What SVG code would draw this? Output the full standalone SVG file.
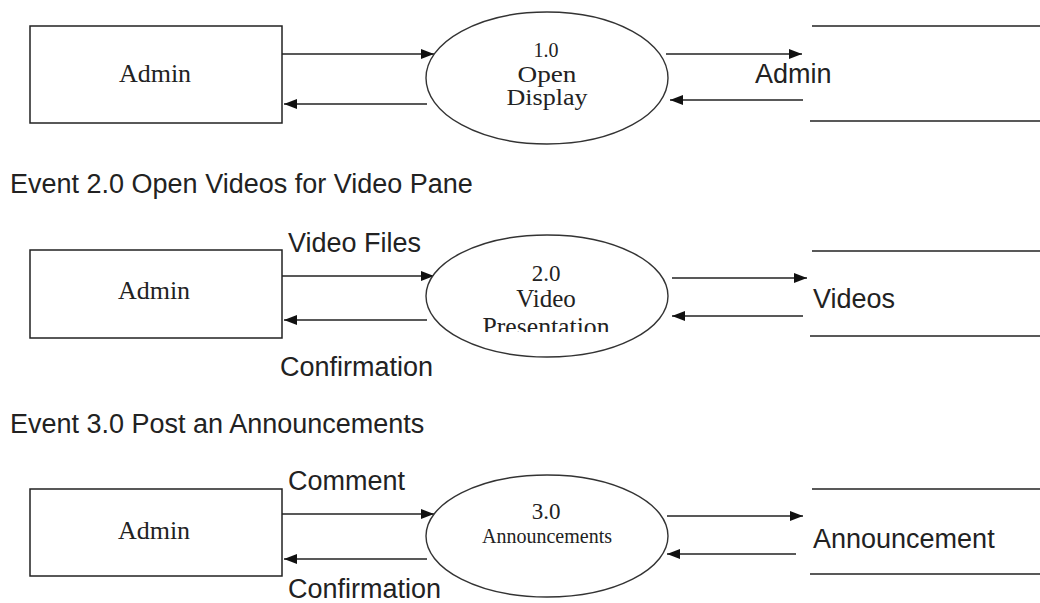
<svg xmlns="http://www.w3.org/2000/svg" width="1040" height="603" viewBox="0 0 1040 603">
<style>
.box{fill:#fff;stroke:#222;stroke-width:1.5}
.proc{fill:#fff;stroke:#333;stroke-width:1.4}
.store{stroke:#222;stroke-width:1.5}
.flow{stroke:#222;stroke-width:1.5;fill:none;marker-end:url(#ah)}
.serif{font-family:"Liberation Serif","Times New Roman",serif;fill:#222;text-anchor:middle}
.sans{font-family:"Liberation Sans",Arial,sans-serif;fill:#222;font-size:27px}
</style>
<defs>
<marker id="ah" markerUnits="userSpaceOnUse" markerWidth="13" markerHeight="10" refX="13" refY="5" orient="auto">
<path d="M0,0 L13,5 L0,10 z" fill="#111"/>
</marker>
<clipPath id="clipPres"><rect x="440" y="300" width="220" height="32"/></clipPath>
</defs>
<rect width="1040" height="603" fill="#fff"/>

<g id="connectors">
<line class="flow" x1="282" y1="54" x2="434" y2="54"/>
<line class="flow" x1="427" y1="104" x2="284" y2="104"/>
<line class="flow" x1="666" y1="54" x2="802" y2="54"/>
<line class="flow" x1="803" y1="100" x2="670" y2="100"/>
<line class="flow" x1="282" y1="276" x2="434" y2="276"/>
<line class="flow" x1="427" y1="320" x2="284" y2="320"/>
<line class="flow" x1="672" y1="278" x2="807" y2="278"/>
<line class="flow" x1="803" y1="316" x2="672" y2="316"/>
<line class="flow" x1="282" y1="514" x2="434" y2="514"/>
<line class="flow" x1="427" y1="559" x2="284" y2="559"/>
<line class="flow" x1="667" y1="516" x2="803" y2="516"/>
<line class="flow" x1="796" y1="554" x2="667" y2="554"/>
<text class="sans" x="288" y="252">Video Files</text>
<text class="sans" x="280" y="376">Confirmation</text>
<text class="sans" x="288" y="490">Comment</text>
<text class="sans" x="288" y="598">Confirmation</text>
</g>

<g id="admin1">
<rect class="box" x="30" y="26" width="252" height="97"/>
<text class="serif" x="155" y="82" font-size="26">Admin</text>
</g>
<g id="proc1">
<ellipse class="proc" cx="547" cy="78" rx="121" ry="66"/>
<text class="serif" x="546" y="57" font-size="20">1.0</text>
<text class="serif" x="547" y="82" font-size="23" textLength="59" lengthAdjust="spacingAndGlyphs">Open</text>
<text class="serif" x="547" y="105" font-size="23" textLength="81" lengthAdjust="spacingAndGlyphs">Display</text>
</g>
<g id="store1">
<line class="store" x1="812" y1="26" x2="1040" y2="26"/>
<line class="store" x1="810" y1="121" x2="1040" y2="121"/>
<text class="sans" x="755" y="83">Admin</text>
</g>

<text id="event2" class="sans" x="10" y="193">Event 2.0 Open Videos for Video Pane</text>

<g id="admin2">
<rect class="box" x="30" y="250" width="252" height="88"/>
<text class="serif" x="154" y="299" font-size="26">Admin</text>
</g>
<g id="proc2">
<ellipse class="proc" cx="547" cy="296" rx="121" ry="61"/>
<text class="serif" x="546" y="281" font-size="23">2.0</text>
<text class="serif" x="546" y="307" font-size="25">Video</text>
<text class="serif" x="546" y="335" font-size="25" textLength="127" lengthAdjust="spacingAndGlyphs" clip-path="url(#clipPres)">Presentation</text>
</g>
<g id="store2">
<line class="store" x1="812" y1="251" x2="1040" y2="251"/>
<line class="store" x1="810" y1="336" x2="1040" y2="336"/>
<text class="sans" x="813" y="308">Videos</text>
</g>

<text id="event3" class="sans" x="10" y="433">Event 3.0 Post an Announcements</text>

<g id="admin3">
<rect class="box" x="30" y="489" width="252" height="87"/>
<text class="serif" x="154" y="539" font-size="26">Admin</text>
</g>
<g id="proc3">
<ellipse class="proc" cx="547" cy="536" rx="121" ry="61"/>
<text class="serif" x="546" y="519" font-size="23">3.0</text>
<text class="serif" x="547" y="543" font-size="20">Announcements</text>
</g>
<g id="store3">
<line class="store" x1="812" y1="489" x2="1040" y2="489"/>
<line class="store" x1="810" y1="574" x2="1040" y2="574"/>
<text class="sans" x="813" y="548">Announcement</text>
</g>
</svg>
